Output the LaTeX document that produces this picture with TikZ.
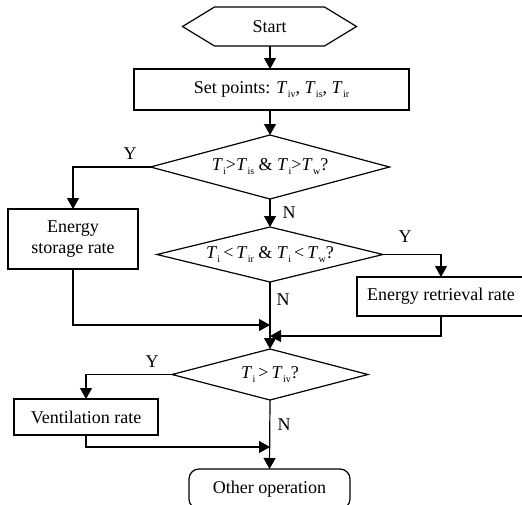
\documentclass[tikz,border=0pt]{standalone}
\usepackage{fontspec}
\setmainfont{Liberation Serif}
\usetikzlibrary{arrows.meta,shapes.geometric}
\newcommand{\Tx}[1]{\textit{T}\kern0.02em\raisebox{-0.22em}{\fontsize{10}{10}\selectfont #1}}
\begin{document}
\begin{tikzpicture}[x=1pt,y=-1pt,
  every node/.style={font=\fontsize{18}{21}\selectfont, outer sep=0pt},
  box/.style={draw, line width=1.2pt, inner sep=1pt},
  dia/.style={draw, line width=1.2pt, diamond, inner sep=1pt},
  lbl/.style={inner sep=0pt},
  conn/.style={line width=1.2pt},
  arr/.style={conn, -{Triangle[length=11pt,width=12pt]}}]
\useasboundingbox (0,0) rectangle (522,504);
% Start hexagon
\node[minimum width=174pt, minimum height=39pt, inner sep=0pt] (start) at (269.5,26.5) {Start};
\draw[line width=1.2pt] ([xshift=32pt]start.north west) -- ([xshift=-32pt]start.north east)
  -- (start.east) -- ([xshift=-32pt]start.south east) -- ([xshift=32pt]start.south west)
  -- (start.west) -- cycle;
\node[box, minimum width=275pt, minimum height=41pt] (setp) at (271.5,89.5)
  {Set points: \Tx{iv}, \Tx{is}, \Tx{ir}};
\node[dia, minimum width=239pt, minimum height=64pt, shape aspect=3.7] (d1) at (270,167)
  {\Tx{i}>\Tx{is} \& \Tx{i}>\Tx{w}?};
\node[box, minimum width=130pt, minimum height=60pt, align=center] (es) at (73,239)
  {Energy\\storage rate};
\node[dia, minimum width=226pt, minimum height=55pt, shape aspect=4.1] (d2) at (270,254.5)
  {\Tx{i}\,<\,\Tx{ir} \& \Tx{i}\,<\,\Tx{w}?};
\node[box, minimum width=168pt, minimum height=39pt] (er) at (441,296.5)
  {Energy retrieval rate};
\node[dia, minimum width=196pt, minimum height=51pt, shape aspect=3.8] (d3) at (270,374.5)
  {\Tx{i}\,>\,\Tx{iv}?};
\node[box, minimum width=144pt, minimum height=36pt] (vr) at (86,417)
  {Ventilation rate};
\node[box, rounded corners=10pt, minimum width=161pt, minimum height=40pt] (oo) at (269.5,489)
  {Other operation};
% merge points
\coordinate (m1) at (270,325);
\coordinate (m2) at (270,336);
\coordinate (m3) at (270,447);
% connectors
\draw[arr] (start.south -| d1.north) -- (setp.north -| d1.north);
\draw[arr] (setp.south -| d1.north) -- (d1.north);
\draw[arr] (d1.west) -| (es.north);
\draw[arr] (d1.south) -- (d2.north);
\draw[arr] (d2.east) -| (er.north);
\draw[arr] (d2.south) -- (d3.north);
\draw[arr] (es.south) |- (m1);
\draw[arr] (er.south) |- (m2);
\draw[arr] (d3.west) -| (vr.north);
\draw[arr] (d3.south) -- (oo.north);
\draw[arr] (vr.south) |- (m3);
% labels
\node[lbl] (y1) at (130,154) {Y};
\node[lbl] (n1) at (289,213) {N};
\node[lbl] (y2) at (405,237) {Y};
\node[lbl] (n2) at (283,300) {N};
\node[lbl] (y3) at (152,362) {Y};
\node[lbl] (n3) at (284,425) {N};
\end{tikzpicture}
\end{document}
